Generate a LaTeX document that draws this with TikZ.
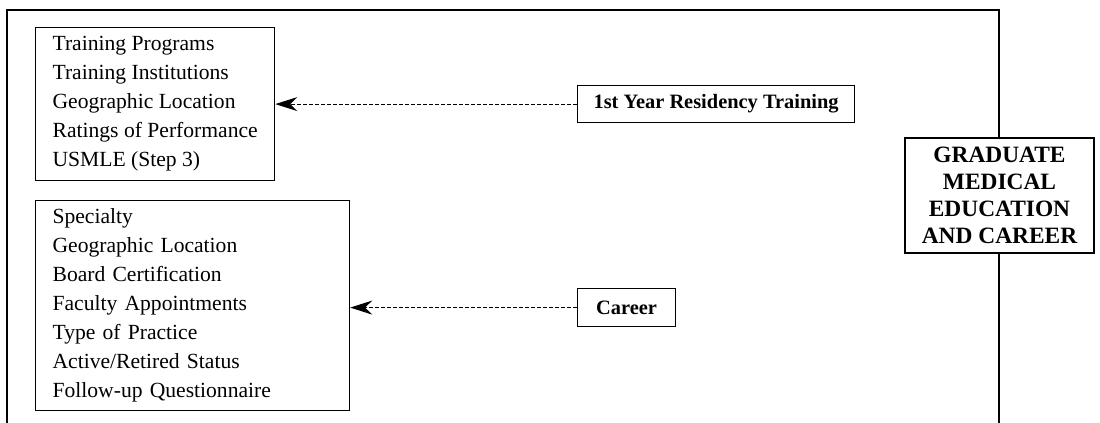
\documentclass[tikz,border=0pt]{standalone}
\usepackage{fontspec}
\setmainfont{Liberation Serif}
\usetikzlibrary{arrows.meta}

\begin{document}
\begin{tikzpicture}[x=0.5pt,y=-0.5pt,line width=0.6pt]
            \tikzstyle{lst}=[draw,anchor=north west,align=left,inner xsep=8.5pt,font=\fontsize{10.8}{14.5}\selectfont]
            \tikzstyle{lbl}=[draw,anchor=north west,inner sep=0pt,font=\fontsize{10.2}{12}\selectfont\bfseries]
            \tikzstyle{big}=[draw,fill=white,line width=1.2pt,align=center,minimum width=94.5pt,minimum height=57.5pt,inner sep=0pt,font=\fontsize{11.7}{13.5}\selectfont\bfseries]
            \tikzstyle{arr}=[-{Stealth[length=11pt,width=7pt]},line width=0.5pt,dash pattern=on 2pt off 1pt]

            \useasboundingbox (0,0) rectangle (1100,423);
            \draw (7,423) -- (7,10) -- (999,10) -- (999,423);

            \node [lst,minimum height=76.5pt] (train) at (35,27)
              {Training Programs\\Training Institutions\\Geographic Location\\Ratings of Performance\\USMLE (Step 3)};
            \node [lst,text width=140pt,minimum height=105pt] (career) at (35,200)
              {Specialty\\Geographic Location\\Board Certification\\Faculty Appointments\\Type of Practice\\Active/Retired Status\\Follow-up Questionnaire};

            \node [lbl,minimum width=138.5pt,minimum height=18.5pt] (res) at (577,85) {1st Year Residency Training};
            \node [lbl,minimum width=49pt,minimum height=19pt] (car) at (577,288) {Career};

            \node [big] (gme) at (999.5,195.5) {GRADUATE\\MEDICAL\\EDUCATION\\AND CAREER};

            \draw [arr] (res.west) -- (res.west -| train.east);
            \draw [arr] (car.west) -- (car.west -| career.east);
        \end{tikzpicture}
\end{document}
